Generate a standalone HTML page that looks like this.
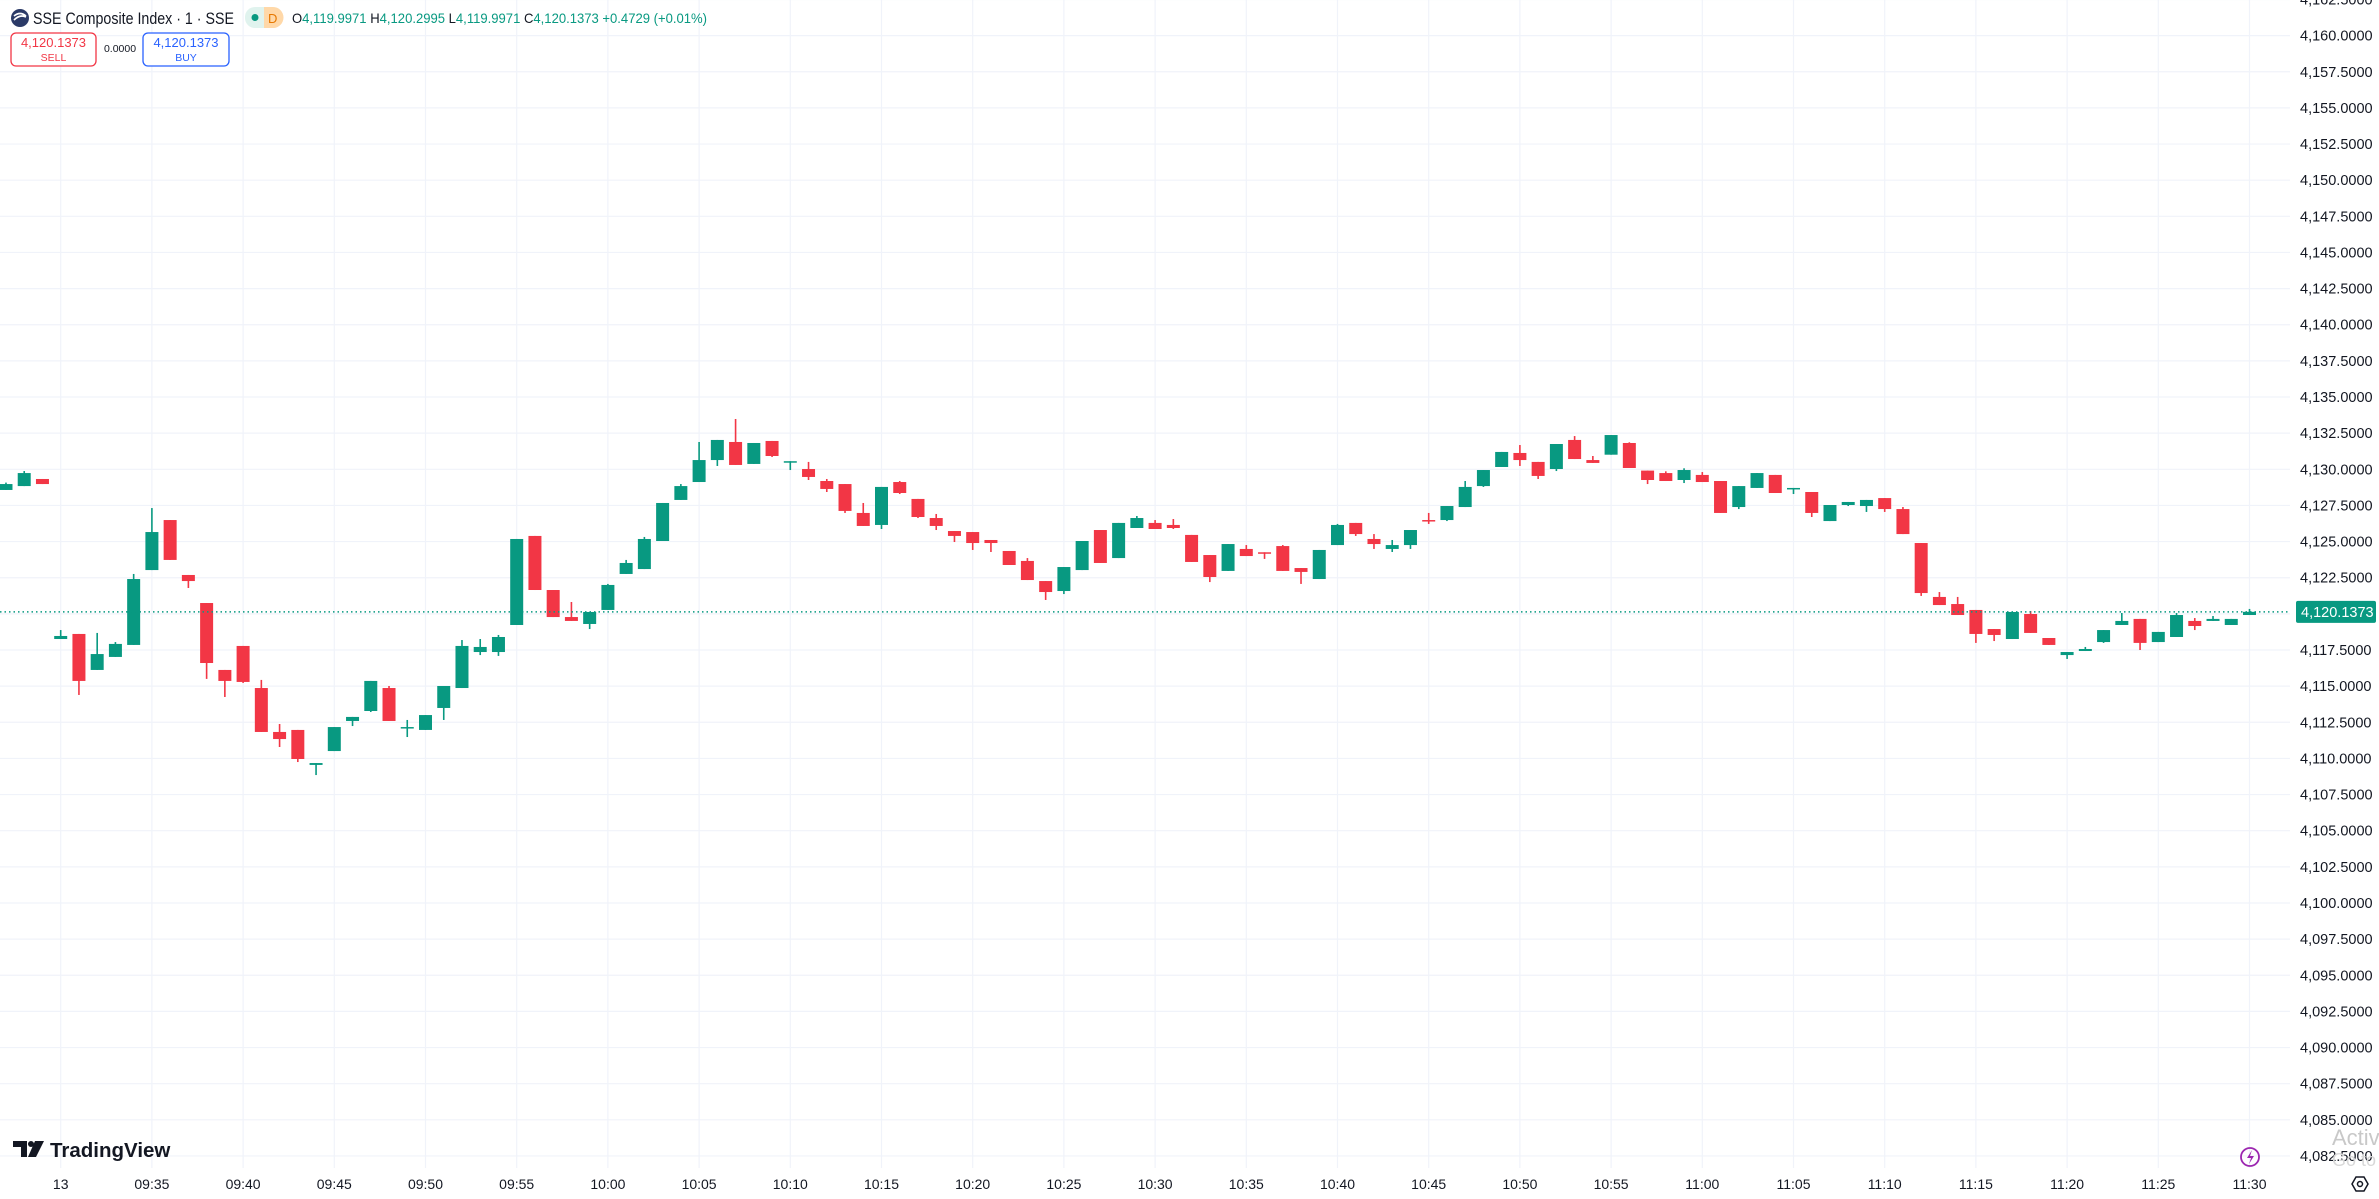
<!DOCTYPE html>
<html><head><meta charset="utf-8">
<style>
html,body{margin:0;padding:0;background:#fff;width:2379px;height:1199px;overflow:hidden;font-family:"Liberation Sans",sans-serif;}
svg{display:block}
</style></head>
<body>
<svg id="chart" width="2379" height="1199" viewBox="0 0 2379 1199" xmlns="http://www.w3.org/2000/svg" font-family="Liberation Sans, sans-serif">
<g id="grid"></g>
<g id="candles"></g>
<line id="lastline" stroke="#089981" stroke-width="1.5" stroke-dasharray="1.5,3"/>
<g id="yaxis"></g>
<g id="xaxis"></g>

<g>
  <circle cx="20" cy="18" r="9" fill="#2b3a67"/>
  <path d="M14 20 q6 -6 12 -3 M14 16 q6 -5 12 0" stroke="#fff" stroke-width="1.6" fill="none"/>
  <text x="33" y="24" font-size="16.5" fill="#131722" textLength="201" lengthAdjust="spacingAndGlyphs">SSE Composite Index · 1 · SSE</text>
  <rect x="245" y="7" width="38" height="21" rx="10" fill="#e0f3ee"/>
  <path d="M264 7 h9 a10 10 0 0 1 0 21 h-9 z" fill="#ffd8a8"/>
  <circle cx="255" cy="17.5" r="3.5" fill="#089981"/>
  <text x="268" y="23" font-size="13" fill="#e67700">D</text>
  <text x="292" y="23" font-size="14" fill="#089981" textLength="415" lengthAdjust="spacingAndGlyphs"><tspan fill="#131722">O</tspan>4,119.9971 <tspan fill="#131722">H</tspan>4,120.2995 <tspan fill="#131722">L</tspan>4,119.9971 <tspan fill="#131722">C</tspan>4,120.1373 +0.4729 (+0.01%)</text>
  <rect x="11" y="33" width="85" height="33" rx="5" fill="#fff" stroke="#f23645" stroke-width="1.3"/>
  <text x="53.5" y="47" font-size="13" fill="#f23645" text-anchor="middle">4,120.1373</text>
  <text x="53.5" y="61" font-size="10.5" fill="#f23645" text-anchor="middle">SELL</text>
  <text x="120" y="52" font-size="10.5" fill="#131722" text-anchor="middle">0.0000</text>
  <rect x="143" y="33" width="86" height="33" rx="5" fill="#fff" stroke="#2962ff" stroke-width="1.3"/>
  <text x="186" y="47" font-size="13" fill="#2962ff" text-anchor="middle">4,120.1373</text>
  <text x="186" y="61" font-size="10.5" fill="#2962ff" text-anchor="middle">BUY</text>
</g>

<g>
  <path d="M13 1141 h14 v16 h-6 v-10 h-8 z" fill="#131722"/>
  <circle cx="31" cy="1144" r="3" fill="#131722"/>
  <path d="M35 1141 h9 l-8 16 h-8 z" fill="#131722"/>
  <text x="50" y="1157" font-size="20.5" font-weight="bold" fill="#131722">TradingView</text>
</g>
<g>
  <circle cx="2250" cy="1157" r="9" fill="none" stroke="#9c27b0" stroke-width="1.8"/>
  <path d="M2252 1150 l-5 8 h4 l-2 6 l5 -8 h-4 z" fill="#9c27b0"/>
</g>
<text x="2332" y="1145" font-size="22" fill="#c8c8c8">Activa</text>
<text x="2332" y="1166" font-size="18" fill="#d8d8d8">Go to S</text>
<g>
  <path d="M2352 1184 l4 -7 h8 l4 7 l-4 7 h-8 z" fill="none" stroke="#131722" stroke-width="1.5"/>
  <circle cx="2360" cy="1184" r="2.5" fill="none" stroke="#131722" stroke-width="1.5"/>
</g>
</svg>
<script>
// candle data: one bar per minute starting 09:27
const opens = [4128.57,4128.84,4129.33,4118.26,4118.61,4116.12,4117.02,4117.85,4123.03,4126.49,4122.69,4120.75,4116.12,4117.78,4114.87,4111.83,4111.97,4109.55,4110.51,4112.59,4113.28,4114.87,4112.15,4111.97,4113.49,4114.87,4117.36,4117.36,4119.23,4125.39,4121.65,4119.78,4119.30,4120.27,4122.76,4123.10,4125.04,4127.88,4129.12,4130.64,4131.89,4130.37,4131.96,4130.54,
4130.02,4129.19,4128.98,4126.98,4126.15,4129.12,4127.95,4126.63,4125.73,4125.66,4125.11,4124.35,4123.66,4122.27,4121.58,4123.03,4125.80,4123.86,4125.94,4126.29,4126.15,4125.46,4124.07,4122.97,4124.49,4124.26,4124.69,4123.17,4122.41,4124.76,4126.29,4125.18,4124.49,4124.76,4126.49,4126.49,4127.39,4128.84,4130.16,4131.13,4130.51,4130.02,4132.03,4130.64,
4131.01,4131.82,4129.91,4129.74,4129.26,4129.61,4129.19,4127.39,4128.71,4129.61,4128.66,4128.43,4126.42,4127.53,4127.46,4128.01,4127.25,4124.90,4121.17,4120.68,4120.27,4118.95,4118.26,4119.99,4118.33,4117.15,4117.43,4118.05,4119.23,4119.65,4118.05,4118.40,4119.51,4119.51,4119.23,4119.92];
const highs = [4129.08,4129.88,4129.33,4118.88,4118.61,4118.68,4118.05,4122.76,4127.32,4126.49,4122.69,4120.75,4116.12,4117.78,4115.43,4112.38,4111.97,4109.68,4112.17,4112.87,4115.36,4115.01,4112.66,4113.00,4115.01,4118.19,4118.26,4118.54,4125.18,4125.39,4121.65,4120.82,4120.13,4122.07,4123.73,4125.32,4127.67,4128.98,4131.89,4132.03,4133.48,4131.82,4131.96,4130.56,
4130.51,4129.33,4128.98,4127.67,4128.78,4129.19,4127.95,4126.91,4125.73,4125.66,4125.11,4124.35,4123.86,4122.27,4123.24,4125.04,4125.80,4126.29,4126.77,4126.49,4126.56,4125.46,4124.07,4124.83,4124.76,4124.26,4124.76,4123.17,4124.42,4126.22,4126.29,4125.52,4125.11,4125.80,4126.98,4127.46,4129.19,4129.95,4131.20,4131.68,4130.51,4131.75,4132.30,4130.92,
4132.37,4131.87,4129.91,4129.86,4130.07,4129.81,4129.19,4128.84,4129.74,4129.61,4128.71,4128.43,4127.53,4127.74,4127.88,4128.01,4127.39,4124.90,4121.51,4121.17,4120.27,4118.95,4120.13,4120.20,4118.33,4117.36,4117.71,4118.88,4120.06,4119.65,4118.75,4120.06,4119.71,4119.85,4119.65,4120.34];
const lows = [4128.57,4128.84,4128.98,4118.26,4114.39,4116.12,4117.02,4117.85,4123.03,4123.73,4121.79,4115.50,4114.25,4115.22,4111.83,4110.79,4109.75,4108.85,4110.51,4112.24,4113.21,4112.59,4111.48,4111.97,4112.66,4114.87,4117.15,4117.09,4119.23,4121.65,4119.78,4119.51,4118.95,4120.27,4122.76,4123.10,4125.04,4127.88,4129.12,4130.23,4130.30,4130.37,4130.85,4129.95,
4129.26,4128.43,4126.98,4126.08,4125.87,4128.29,4126.63,4125.80,4124.97,4124.42,4124.28,4123.38,4122.34,4120.96,4121.37,4123.03,4123.52,4123.86,4125.94,4125.87,4125.87,4123.59,4122.20,4122.97,4124.00,4123.80,4122.97,4122.07,4122.41,4124.76,4125.39,4124.49,4124.28,4124.49,4126.22,4126.42,4127.39,4128.78,4130.16,4130.23,4129.33,4129.88,4130.71,4130.44,
4131.01,4130.09,4128.98,4129.19,4129.05,4129.12,4126.98,4127.25,4128.71,4128.36,4128.29,4126.70,4126.42,4127.46,4127.05,4127.05,4125.52,4121.24,4120.61,4119.92,4117.99,4118.12,4118.26,4118.68,4117.85,4116.88,4117.43,4117.99,4119.23,4117.50,4118.05,4118.40,4118.88,4119.51,4119.23,4119.92];
const closes = [4128.98,4129.74,4128.98,4118.47,4115.36,4117.22,4117.92,4122.41,4125.66,4123.73,4122.27,4116.60,4115.36,4115.29,4111.83,4111.34,4109.96,4109.68,4112.17,4112.87,4115.36,4112.59,4112.17,4113.00,4115.01,4117.78,4117.71,4118.40,4125.18,4121.65,4119.78,4119.51,4120.13,4122.00,4123.52,4125.18,4127.67,4128.84,4130.64,4132.03,4130.30,4131.82,4130.92,4130.56,
4129.47,4128.64,4127.12,4126.08,4128.78,4128.36,4126.70,4126.08,4125.39,4124.90,4124.90,4123.38,4122.34,4121.51,4123.24,4125.04,4123.52,4126.29,4126.63,4125.87,4125.94,4123.59,4122.55,4124.83,4124.00,4124.21,4122.97,4122.90,4124.42,4126.15,4125.52,4124.83,4124.76,4125.80,4126.45,4127.46,4128.78,4129.95,4131.20,4130.64,4129.54,4131.75,4130.71,4130.44,
4132.37,4130.09,4129.26,4129.19,4129.95,4129.12,4126.98,4128.84,4129.74,4128.36,4128.71,4126.98,4127.53,4127.74,4127.88,4127.25,4125.52,4121.44,4120.61,4119.92,4118.61,4118.54,4120.13,4118.68,4117.85,4117.36,4117.57,4118.88,4119.51,4117.99,4118.75,4119.92,4119.16,4119.65,4119.65,4120.14];
const firstMinute = -3; // minutes after 09:30
const lastPrice = 4120.1373;
const priceTicks = [4082.5,4085,4087.5,4090,4092.5,4095,4097.5,4100,4102.5,4105,4107.5,4110,4112.5,4115,4117.5,4120,4122.5,4125,4127.5,4130,4132.5,4135,4137.5,4140,4142.5,4145,4147.5,4150,4152.5,4155,4157.5,4160,4162.5];
const timeLabels = ["13","09:35","09:40","09:45","09:50","09:55","10:00","10:05","10:10","10:15","10:20","10:25","10:30","10:35","10:40","10:45","10:50","10:55","11:00","11:05","11:10","11:15","11:20","11:25","11:30"];
const timeLabelMinutes = [0,5,10,15,20,25,30,35,40,45,50,55,60,65,70,75,80,85,90,95,100,105,110,115,120];

const NS="http://www.w3.org/2000/svg";
const PLOT_R=2290, PLOT_B=1168;
function yScale(v){return 650-(v-4117.5)*14.456;}
function xScale(m){return 60.7+m*18.24;}
function mk(tag,attrs,parent){const e=document.createElementNS(NS,tag);for(const k in attrs)e.setAttribute(k,attrs[k]);parent.appendChild(e);return e;}
function fmt(v){const p=v.toFixed(4).split('.');return p[0].replace(/\B(?=(\d{3})+(?!\d))/g,',')+'.'+p[1];}

const grid=document.getElementById('grid');
priceTicks.forEach(v=>{
  const y=yScale(v);
  const l=mk('line',{x1:0,x2:PLOT_R,y1:y,y2:y,stroke:'#f0f3fa','stroke-width':1.2},grid);
  
  
});
timeLabelMinutes.forEach(m=>{
  const x=xScale(m);
  const l=mk('line',{x1:x,x2:x,y1:0,y2:PLOT_B,stroke:'#f0f3fa','stroke-width':1.2},grid);
  
  
});

const cg=document.getElementById('candles');
const BW=13;
opens.forEach((o,i)=>{
  const c=closes[i],h=highs[i],lo=lows[i];
  const x=xScale(firstMinute+i);
  const col=c>=o?'#089981':'#f23645';
  const g=mk('g',{},cg);
  
  
  mk('rect',{x:x-0.8,y:yScale(h),width:1.6,height:Math.max(1,yScale(lo)-yScale(h)),fill:col},g);
  const top=yScale(Math.max(o,c)),bot=yScale(Math.min(o,c));
  mk('rect',{x:x-BW/2,y:top,width:BW,height:Math.max(1.5,bot-top),fill:col},g);
});

const ll=document.getElementById('lastline');
const ly=yScale(lastPrice);
ll.setAttribute('x1',0);ll.setAttribute('x2',PLOT_R);ll.setAttribute('y1',ly);ll.setAttribute('y2',ly);

const ya=document.getElementById('yaxis');
priceTicks.forEach(v=>{
  const t=mk('text',{x:2300,y:yScale(v)+5,'font-size':14.5,fill:'#131722'},ya);
  
  
  t.textContent=fmt(v);
});
const lb=mk('rect',{x:2296,y:ly-11,width:80,height:22,rx:2,fill:'#089981'},ya);


const lt=mk('text',{x:2301,y:ly+5,'font-size':14.5,fill:'#fff'},ya);


lt.textContent=fmt(lastPrice);

const xa=document.getElementById('xaxis');
timeLabels.forEach((s,i)=>{
  const t=mk('text',{x:xScale(timeLabelMinutes[i]),y:1189,'font-size':14,fill:'#131722','text-anchor':'middle'},xa);
  
  
  t.textContent=s;
});
</script>
</body></html>
